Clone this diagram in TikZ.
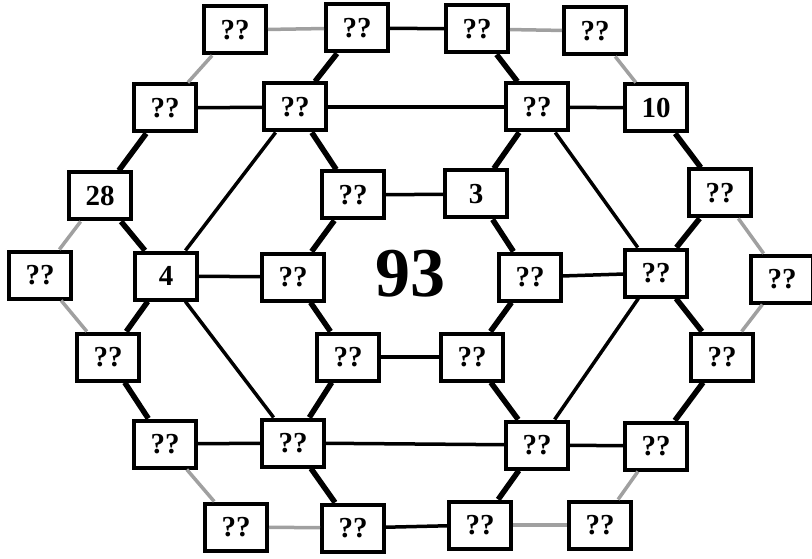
\documentclass[tikz,border=0pt]{standalone}
\usepackage{fontspec}
\setmainfont{Liberation Serif}
\definecolor{edgegray}{HTML}{A0A0A0}
\tikzset{
  cell/.style={draw=black, line width=4pt, fill=white, minimum width=62pt, minimum height=47pt, inner sep=0pt, font=\fontsize{29}{29}\selectfont\bfseries},
  hexedge/.style={draw=black, line width=5.5pt},
  thinedge/.style={draw=black, line width=3.5pt},
  grayedge/.style={draw=edgegray, line width=3.5pt},
}
\begin{document}
\begin{tikzpicture}[x=1pt,y=-1pt]
\useasboundingbox (0,0) rectangle (812,559);
\fill[white] (0,0) rectangle (812,559);
% nodes
\node[cell] (t1) at (235,30) {??};
\node[cell] (t2) at (357,28) {??};
\node[cell] (t3) at (477,29) {??};
\node[cell] (t4) at (595,31) {??};
\node[cell] (a1) at (165,108) {??};
\node[cell] (a2) at (295,107) {??};
\node[cell] (a3) at (537,107) {??};
\node[cell] (a4) at (656,108) {10};
\node[cell] (b1) at (100,196) {28};
\node[cell] (b2) at (353,195) {??};
\node[cell] (b3) at (476,194) {3};
\node[cell] (b4) at (720,193) {??};
\node[cell] (c1) at (40,275) {??};
\node[cell] (c2) at (166,276) {4};
\node[cell] (c3) at (293,277) {??};
\node[cell] (c4) at (530,277) {??};
\node[cell] (c5) at (656,273) {??};
\node[cell] (c6) at (782,279) {??};
\node[cell] (d1) at (108,357) {??};
\node[cell] (d2) at (348,357) {??};
\node[cell] (d3) at (472,357) {??};
\node[cell] (d4) at (722,357) {??};
\node[cell] (e1) at (165,444) {??};
\node[cell] (e2) at (293,443) {??};
\node[cell] (e3) at (537,445) {??};
\node[cell] (e4) at (656,446) {??};
\node[cell] (f1) at (236,527) {??};
\node[cell] (f2) at (353,528) {??};
\node[cell] (f3) at (480,525) {??};
\node[cell] (f4) at (600,525) {??};
\node[font=\fontsize{70}{70}\selectfont\bfseries] (center) at (410,274) {93};
% gray edges
\draw[grayedge] (t1) -- (t2);
\draw[grayedge] (t3) -- (t4);
\draw[grayedge] (t1) -- (a1);
\draw[grayedge] (t4) -- (a4);
\draw[grayedge] (b1) -- (c1);
\draw[grayedge] (c1) -- (d1);
\draw[grayedge] (b4) -- (c6);
\draw[grayedge] (c6) -- (d4);
\draw[grayedge] (e1) -- (f1);
\draw[grayedge] (f1) -- (f2);
\draw[grayedge] (e4) -- (f4);
\draw[grayedge] (f3) -- (f4);
% thick hexagon edges
\draw[hexedge] (t2) -- (a2);
\draw[hexedge] (t3) -- (a3);
\draw[hexedge] (a1) -- (b1);
\draw[hexedge] (b1) -- (c2);
\draw[hexedge] (a2) -- (b2);
\draw[hexedge] (a3) -- (b3);
\draw[hexedge] (a4) -- (b4);
\draw[hexedge] (b4) -- (c5);
\draw[hexedge] (b2) -- (c3);
\draw[hexedge] (b3) -- (c4);
\draw[hexedge] (c2) -- (d1);
\draw[hexedge] (c3) -- (d2);
\draw[hexedge] (c4) -- (d3);
\draw[hexedge] (c5) -- (d4);
\draw[hexedge] (d1) -- (e1);
\draw[hexedge] (d2) -- (e2);
\draw[hexedge] (d3) -- (e3);
\draw[hexedge] (d4) -- (e4);
\draw[hexedge] (e2) -- (f2);
\draw[hexedge] (e3) -- (f3);
% thinner black edges
\draw[thinedge] (t2) -- (t3);
\draw[thinedge] (a1) -- (a2);
\draw[thinedge] (a2) -- (a3);
\draw[thinedge] (a3) -- (a4);
\draw[thinedge] (b2) -- (b3);
\draw[thinedge] (c2) -- (c3);
\draw[thinedge] (c4) -- (c5);
\draw[thinedge] (d2) -- (d3);
\draw[thinedge] (e1) -- (e2);
\draw[thinedge] (e2) -- (e3);
\draw[thinedge] (e3) -- (e4);
\draw[thinedge] (f2) -- (f3);
\draw[thinedge] (c2) -- (a2);
\draw[thinedge] (c2) -- (e2);
\draw[thinedge] (a3) -- (c5);
\draw[thinedge] (c5) -- (e3);
\end{tikzpicture}
\end{document}
